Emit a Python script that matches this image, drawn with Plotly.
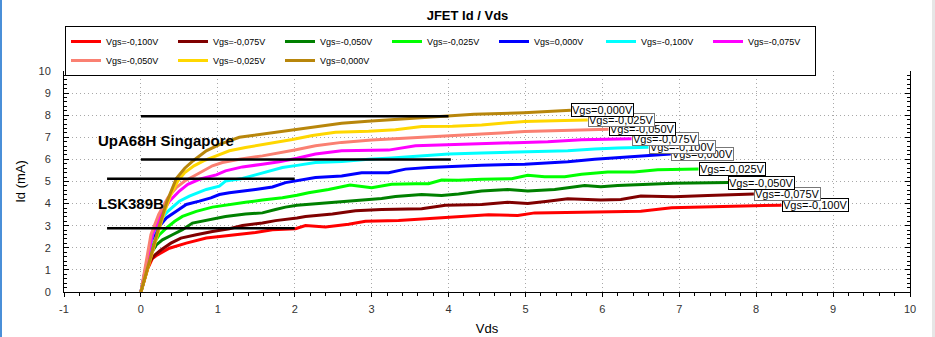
import plotly.graph_objects as go

# ---------------- data ----------------
series_names = ["Vgs=-0,100V", "Vgs=-0,075V", "Vgs=-0,050V", "Vgs=-0,025V", "Vgs=0,000V",
                "Vgs=-0,100V", "Vgs=-0,075V", "Vgs=-0,050V", "Vgs=-0,025V", "Vgs=0,000V"]
series_colors = ["#FF0000", "#800000", "#008000", "#00FF00", "#0000FF",
                 "#00FFFF", "#FF00FF", "#FA8072", "#FFD700", "#B8860B"]
label_borders = ["#000000", "#777777", "#000000", "#000000", "#777777",
                 "#777777", "#777777", "#000000", "#777777", "#000000"]

vds_red = [0, 0.09, 0.15, 0.21, 0.37, 0.59, 0.85, 1.1, 1.28, 1.49, 1.71, 2.01, 2.14, 2.4, 2.7, 2.92,
           3.35, 3.74, 4.13, 4.52, 4.9, 5.12, 5.73, 6.2, 6.5, 6.9, 7.37, 7.85, 8.33]
id_red = [0, 1.07, 1.52, 1.67, 1.98, 2.21, 2.44, 2.54, 2.59, 2.69, 2.82, 2.86, 3.01, 2.94, 3.07, 3.2,
          3.23, 3.32, 3.38, 3.5, 3.46, 3.58, 3.61, 3.65, 3.65, 3.81, 3.85, 3.9, 3.93]

vds_darkred = [0, 0.11, 0.18, 0.26, 0.39, 0.52, 0.72, 0.93, 1.15, 1.32, 1.58, 1.75, 2.03, 2.14, 2.49,
               2.79, 3.13, 3.65, 3.96, 4.43, 4.77, 5.03, 5.29, 5.55, 5.98, 6.24, 6.5, 6.93, 7.37, 7.97]
id_darkred = [0, 1.37, 1.67, 1.9, 2.21, 2.44, 2.59, 2.74, 2.86, 3.01, 3.12, 3.23, 3.35, 3.42, 3.53,
              3.68, 3.73, 3.77, 3.93, 3.96, 4.06, 4.0, 4.11, 4.22, 4.16, 4.19, 4.34, 4.31, 4.37, 4.44]

vds_green = [0, 0.12, 0.2, 0.28, 0.41, 0.54, 0.67, 0.89, 1.1, 1.36, 1.58, 1.75, 1.88, 2.03, 2.36, 2.79,
             3.13, 3.31, 3.65, 3.91, 4.13, 4.43, 4.77, 5.03, 5.38, 5.77, 5.98, 6.2, 6.5, 6.93, 7.64]
id_green = [0, 1.67, 2.13, 2.36, 2.59, 2.82, 3.12, 3.27, 3.42, 3.53, 3.58, 3.73, 3.84, 3.93, 4.03, 4.14,
            4.23, 4.32, 4.41, 4.37, 4.43, 4.57, 4.64, 4.57, 4.64, 4.82, 4.76, 4.82, 4.86, 4.92, 4.95]

vds_lime = [0, 0.12, 0.18, 0.24, 0.33, 0.44, 0.54, 0.72, 0.93, 1.15, 1.36, 1.58, 1.84, 2.03, 2.18, 2.44,
            2.72, 3.0, 3.26, 3.57, 3.74, 3.91, 4.13, 4.43, 4.82, 5.03, 5.25, 5.51, 5.73, 6.07, 6.41,
            6.72, 7.25]
id_lime = [0, 1.83, 2.28, 2.59, 2.89, 3.2, 3.42, 3.65, 3.84, 3.96, 4.06, 4.16, 4.26, 4.38, 4.49, 4.64,
           4.84, 4.72, 4.87, 4.9, 4.9, 5.07, 5.06, 5.1, 5.13, 5.28, 5.22, 5.22, 5.33, 5.43, 5.43,
           5.53, 5.56]

vds_blue = [0, 0.13, 0.22, 0.33, 0.46, 0.59, 0.76, 0.91, 1.02, 1.15, 1.49, 1.71, 1.88, 2.03, 2.27, 2.61,
            2.87, 3.22, 3.44, 3.74, 4.13, 4.43, 4.99, 5.55, 5.9, 6.2, 6.59, 6.89]
id_blue = [0, 2.28, 2.89, 3.35, 3.65, 3.96, 4.11, 4.26, 4.41, 4.49, 4.64, 4.75, 4.95, 5.04, 5.18, 5.25,
           5.4, 5.4, 5.56, 5.63, 5.7, 5.74, 5.78, 5.89, 6.01, 6.07, 6.16, 6.24]

vds_cyan = [0, 0.15, 0.24, 0.35, 0.5, 0.63, 0.85, 1.02, 1.1, 1.32, 1.49, 1.67, 1.84, 2.03, 2.27, 2.61,
            2.96, 3.26, 3.65, 4.0, 4.43, 4.99, 5.55, 5.9, 6.2, 6.6]
id_cyan = [0, 2.59, 3.2, 3.65, 4.11, 4.34, 4.64, 4.79, 5.02, 5.14, 5.3, 5.48, 5.63, 5.73, 5.86, 5.91,
           6.01, 6.06, 6.16, 6.24, 6.29, 6.35, 6.39, 6.47, 6.52, 6.55]

vds_magenta = [0, 0.15, 0.26, 0.37, 0.5, 0.61, 0.76, 0.98, 1.1, 1.32, 1.58, 1.8, 2.03, 2.27, 2.61, 3.0,
               3.22, 3.57, 3.91, 4.43, 4.95, 5.29, 5.73, 6.38]
id_magenta = [0, 2.59, 3.5, 4.11, 4.57, 4.87, 5.1, 5.3, 5.48, 5.66, 5.78, 5.89, 6.05, 6.24, 6.39, 6.39,
              6.42, 6.62, 6.65, 6.7, 6.77, 6.8, 6.89, 6.93]

vds_salmon = [0, 0.13, 0.23, 0.35, 0.46, 0.57, 0.69, 0.82, 0.93, 1.06, 1.28, 1.58, 1.84, 2.0, 2.27, 2.61,
              3.0, 3.44, 3.78, 4.05, 4.43, 4.99, 5.51, 6.08]
id_salmon = [0, 2.59, 3.5, 4.26, 4.72, 5.02, 5.25, 5.48, 5.71, 5.86, 6.01, 6.16, 6.32, 6.43, 6.62, 6.77,
             6.88, 6.96, 7.0, 7.08, 7.15, 7.26, 7.31, 7.36]

vds_gold = [0, 0.12, 0.24, 0.31, 0.39, 0.48, 0.57, 0.69, 0.82, 0.98, 1.15, 1.36, 1.58, 1.8, 1.97, 2.23,
            2.53, 2.96, 3.31, 3.65, 4.05, 4.43, 4.99, 5.51, 5.81]
id_gold = [0, 1.5, 2.89, 3.65, 4.41, 5.02, 5.4, 5.71, 5.94, 6.16, 6.39, 6.54, 6.67, 6.77, 6.9, 7.08,
           7.23, 7.27, 7.34, 7.49, 7.5, 7.56, 7.72, 7.76, 7.78]

vds_brown = [0, 0.12, 0.23, 0.34, 0.46, 0.57, 0.68, 0.85, 1.04, 1.28, 1.58, 2.0, 2.3, 2.61, 2.95, 3.43,
             3.97, 4.33, 4.98, 5.59]
id_brown = [0, 1.5, 2.89, 4.11, 5.13, 5.6, 5.94, 6.39, 6.7, 7.0, 7.15, 7.33, 7.5, 7.64, 7.73, 7.84,
            7.94, 8.04, 8.11, 8.22]

series_vds = [vds_red, vds_darkred, vds_green, vds_lime, vds_blue,
              vds_cyan, vds_magenta, vds_salmon, vds_gold, vds_brown]
series_id = [id_red, id_darkred, id_green, id_lime, id_blue,
             id_cyan, id_magenta, id_salmon, id_gold, id_brown]

# black reference lines
ref_y = [7.95, 6.0, 5.13, 2.89]
ref_x0 = [0.0, 0.0, -0.44, -0.44]
ref_x1 = [4.0, 4.03, 2.0, 2.0]

# text notes
note_texts = ["UpA68H Singapore", "LSK389B"]
note_x = [-0.59, -0.59]
note_y = [6.87, 4.02]

x_range = [-1, 10]
y_range = [0, 10]
x_tick_vals = [-1, 0, 1, 2, 3, 4, 5, 6, 7, 8, 9, 10]
x_tick_text = ["-1", "0", "1", "2", "3", "4", "5", "6", "7", "8", "9", "10"]

# ---------------- figure ----------------
W, H = 935, 337
ML, MR, MT, MB = 64, 25, 71, 45
PW, PH = W - ML - MR, H - MT - MB
FONT = "Liberation Sans, Arial, sans-serif"

fig = go.Figure()
for name, col, xs, ys in zip(series_names, series_colors, series_vds, series_id):
    fig.add_trace(go.Scatter(x=xs, y=ys, mode="lines", name=name,
                             line=dict(color=col, width=3)))

for y, x0, x1 in zip(ref_y, ref_x0, ref_x1):
    fig.add_trace(go.Scatter(x=[x0, x1], y=[y, y], mode="lines", showlegend=False,
                             hoverinfo="skip", line=dict(color="black", width=2.5)))

annotations = []
for name, xs, ys, bc in zip(series_names, series_vds, series_id, label_borders):
    annotations.append(dict(x=xs[-1], y=ys[-1], xref="x", yref="y", text=name, showarrow=False,
                            xanchor="left", yanchor="middle", bgcolor="white",
                            bordercolor=bc, borderwidth=1, borderpad=0,
                            font=dict(family=FONT, size=11, color="black")))
for t, x, y in zip(note_texts, note_x, note_y):
    annotations.append(dict(x=x, y=y, xref="x", yref="y", text=t, showarrow=False,
                            xanchor="left", yanchor="middle",
                            font=dict(family=FONT, size=15, color="black", weight="bold")))

axis_common = dict(showline=True, linecolor="black", linewidth=1, zeroline=False,
                   showgrid=True, gridcolor="#a8a8a8", griddash="1px,3px", gridwidth=1,
                   tickfont=dict(family=FONT, size=11, color="#333333"),
                   tickcolor="black", automargin=False)

fig.update_layout(
    width=W, height=H,
    margin=dict(l=ML, r=MR, t=MT, b=MB, pad=0, autoexpand=False),
    paper_bgcolor="white", plot_bgcolor="white",
    font=dict(family=FONT, color="black"),
    title=dict(text="JFET Id / Vds", x=0.5, xref="container", xanchor="center",
               y=1 - 15 / H, yref="container", yanchor="middle",
               font=dict(family=FONT, size=13, color="black", weight="bold")),
    xaxis=dict(range=x_range, tickmode="array", tickvals=x_tick_vals, ticktext=x_tick_text,
               ticks="outside", ticklen=4,
               minor=dict(dtick=0.2, tick0=0, ticks="outside", ticklen=3, tickcolor="black",
                          showgrid=False),
               title=dict(text="Vds", font=dict(family=FONT, size=13, color="black"), standoff=9),
               ticklabelstandoff=3, **axis_common),
    yaxis=dict(range=y_range, dtick=1, tick0=0, ticks="inside", ticklen=5, mirror="ticks",
               minor=dict(dtick=0.2, ticks="inside", ticklen=3, tickcolor="black", showgrid=False),
               title=dict(text="Id (mA)", font=dict(family=FONT, size=13, color="black"), standoff=9),
               ticklabelstandoff=10, **axis_common),
    xaxis2=dict(range=x_range, overlaying="x", anchor="y", side="bottom", dtick=1, tick0=0,
                ticks="inside", ticklen=4, tickcolor="black", showticklabels=False,
                showgrid=False, showline=False, zeroline=False, automargin=False,
                minor=dict(dtick=0.2, ticks="inside", ticklen=3, tickcolor="black", showgrid=False)),
    yaxis2=dict(range=y_range, overlaying="y", anchor="x", side="left", dtick=1, tick0=0,
                ticks="outside", ticklen=4, tickcolor="black", showticklabels=False,
                showgrid=False, showline=False, zeroline=False, automargin=False),
    legend=dict(orientation="h", x=(65 - ML) / PW, xanchor="left",
                y=1 + (MT - 26) / PH, yanchor="top",
                entrywidth=62, entrywidthmode="pixels", itemwidth=30,
                font=dict(family=FONT, size=9, color="black"),
                bgcolor="white", bordercolor="black", borderwidth=1, tracegroupgap=0),
    annotations=annotations,
    shapes=[
        dict(type="rect", xref="paper", yref="paper", x0=-ML / PW, x1=(2 - ML) / PW,
             y0=-MB / PH, y1=1 + MT / PH, fillcolor="#4a8fd8", line=dict(width=0), layer="above"),
        dict(type="rect", xref="paper", yref="paper", x0=(932 - ML) / PW, x1=(935 - ML) / PW,
             y0=-MB / PH, y1=1 + MT / PH, fillcolor="#e6e6e6", line=dict(width=0), layer="above"),
    ],
    showlegend=True,
)

fig.write_html("out.html")
